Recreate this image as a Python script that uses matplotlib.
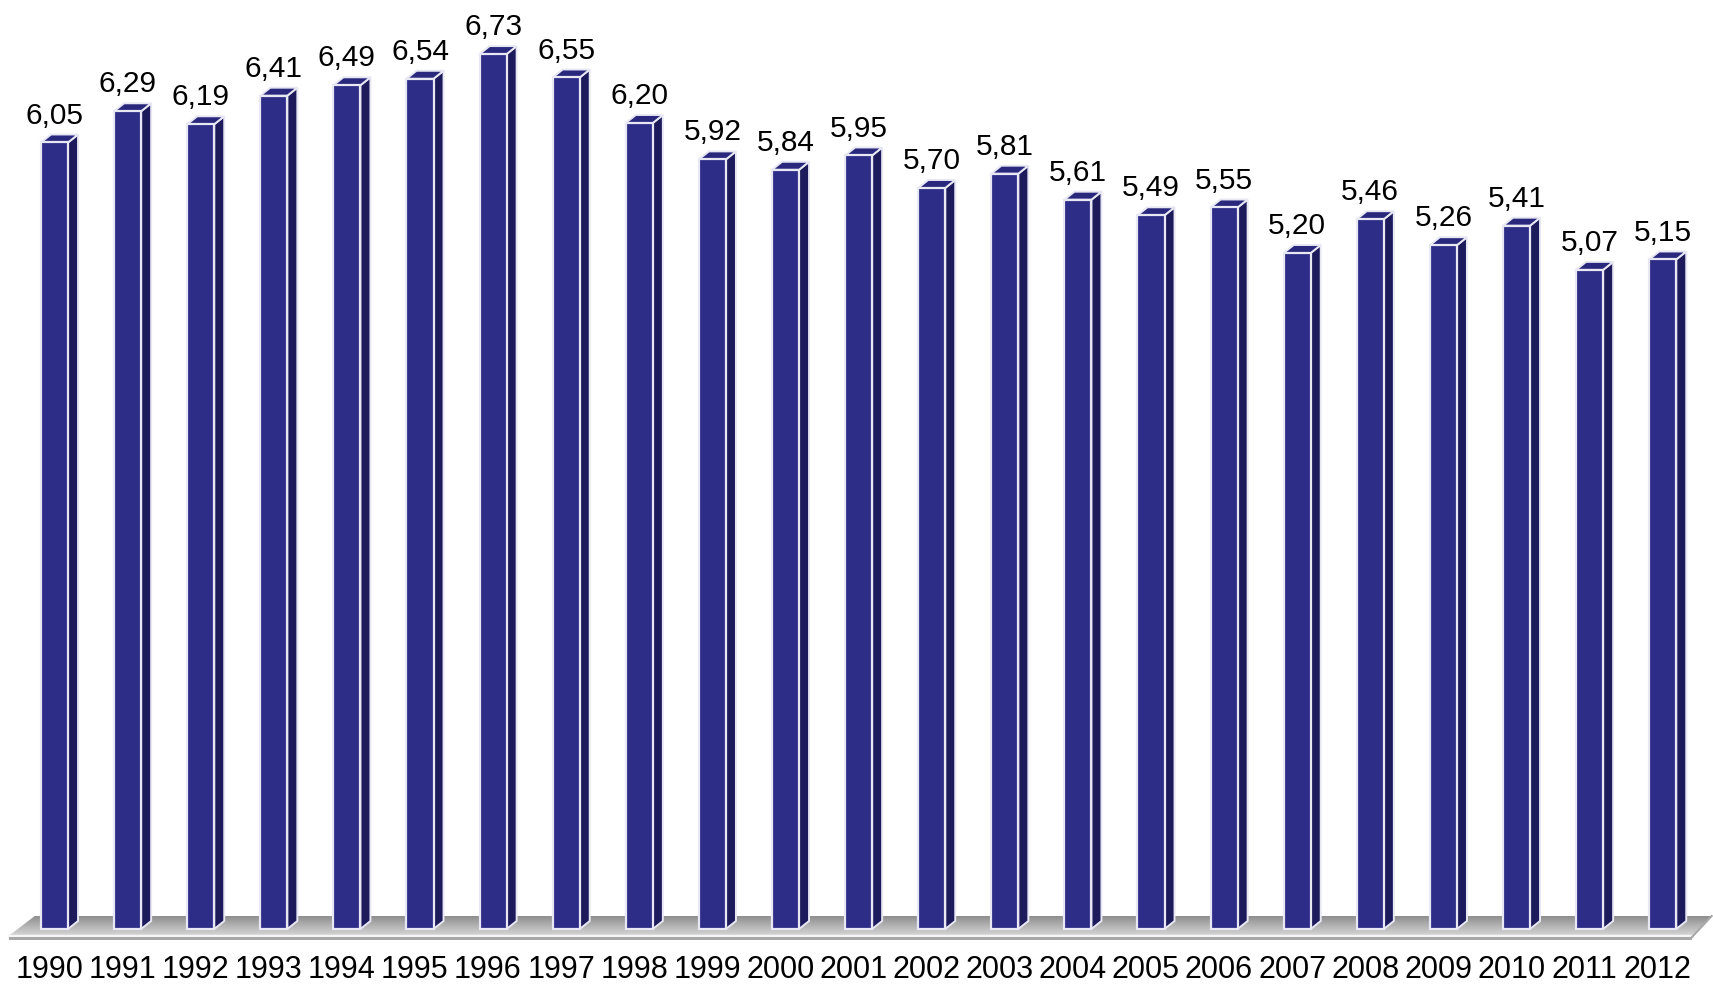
import numpy as np
import matplotlib
matplotlib.use("Agg")
import matplotlib.pyplot as plt
from matplotlib.patches import Polygon

years = ['1990', '1991', '1992', '1993', '1994', '1995', '1996', '1997', '1998', '1999', '2000', '2001',
         '2002', '2003', '2004', '2005', '2006', '2007', '2008', '2009', '2010', '2011', '2012']
values = [6.05, 6.29, 6.19, 6.41, 6.49, 6.54, 6.73, 6.55, 6.20, 5.92, 5.84, 5.95,
          5.70, 5.81, 5.61, 5.49, 5.55, 5.20, 5.46, 5.26, 5.41, 5.07, 5.15]

plt.rcParams['font.family'] = ['Liberation Sans', 'DejaVu Sans']

fig = plt.figure(figsize=(17.13, 9.84), dpi=100)
ax = fig.add_axes([0, 0, 1, 1])
ax.set_xlim(-0.7456, 22.688)
ax.set_ylim(-0.423, 7.146)
ax.axis('off')

x = np.arange(len(values))
w = 0.37      # front face width
dx = 0.137    # depth offset in x
dy = 0.0615   # depth offset in y

front_c = '#2D2C87'
side_c = '#1D1B5C'
top_c = '#29287C'
edge_c = '#E8E8F4'

# gray floor: darker at the back, lighter towards the front edge
fy0, fy1 = -0.050, 0.100
floor = Polygon([(-0.62, fy0), (22.40, fy0), (22.67, fy1), (-0.27, fy1)],
                closed=True, facecolor='none', edgecolor='none', zorder=2)
ax.add_patch(floor)
grad = np.linspace(0, 1, 60).reshape(-1, 1)
cm = matplotlib.colors.LinearSegmentedColormap.from_list('fl', ['#8e8e8e', '#b4b4b4', '#d6d6d6'])
im = ax.imshow(grad, cmap=cm, aspect='auto', extent=(-0.62, 22.67, fy0, fy1),
               origin='upper', zorder=1)
im.set_clip_path(floor)
ax.plot([-0.62, 22.40], [fy0, fy0], color='#f6f6f6', lw=2.5, zorder=2)
ax.fill_between([-0.62, 22.40], fy0 - 0.035, fy0 - 0.012, color='#a8a8a8', lw=0, zorder=2)
ax.plot([22.40, 22.67], [fy0 - 0.012, fy1], color='#a8a8a8', lw=1.5, zorder=2)

# front faces
ax.bar(x, values, width=w, bottom=0, color=front_c, edgecolor=edge_c, linewidth=1.6, zorder=4)

for xi, v in zip(x, values):
    r = xi + w / 2
    l = xi - w / 2
    side = Polygon([(r, 0), (r + dx, dy), (r + dx, v + dy), (r, v)], closed=True,
                   facecolor=side_c, edgecolor=edge_c, lw=1.4, zorder=3)
    top = Polygon([(l, v), (r, v), (r + dx, v + dy), (l + dx, v + dy)], closed=True,
                  facecolor=top_c, edgecolor=edge_c, lw=1.4, zorder=3)
    ax.add_patch(side)
    ax.add_patch(top)
    ax.text(xi, v + 0.146, f'{v:.2f}'.replace('.', ','), ha='center', va='baseline',
            fontsize=21.5, color='black', zorder=5)

for xi, yr in zip(x, years):
    ax.text(xi - 0.07, -0.315, yr, ha='center', va='center', fontsize=22, color='black')

fig.savefig('out.png', dpi=100)
